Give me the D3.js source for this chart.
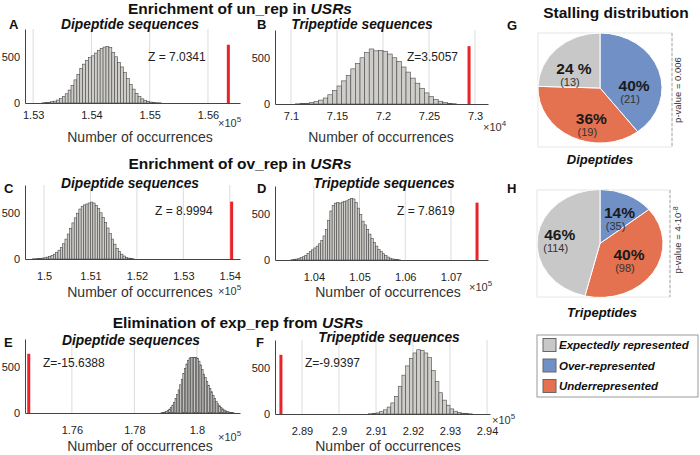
<!DOCTYPE html>
<html><head><meta charset="utf-8">
<script src="https://cdn.jsdelivr.net/npm/d3@7"></script>
<style>body{margin:0;background:#fff}svg{display:block}</style>
</head><body>
<svg id="c" width="700" height="455"></svg>
<script>
// ---------- DATA ----------
const rowTitles = ["Enrichment of un_rep in ", "Enrichment of ov_rep in ", "Elimination of exp_rep from "];
const panelLetters = ["A","B","C","D","E","F"];
const subTitles = ["Dipeptide sequences","Tripeptide sequences","Dipeptide sequences","Tripeptide sequences","Dipeptide sequences","Tripeptide sequences"];
const zLabels = ["Z = 7.0341","Z=3.5057","Z = 8.9994","Z = 7.8619","Z=-15.6388","Z=-9.9397"];
const expLabels = ["5","4","5","5","5","5"];

const binStartA = 1.5315, binWidthA = 0.0005;
const countsA = [2,4,8,14,20,32,48,70,100,140,190,250,310,375,420,460,490,510,540,570,590,605,610,600,545,500,440,390,330,265,200,150,105,70,45,28,18,10,6,3,2];
const binStartB = 7.105, binWidthB = 0.005;
const countsB = [2,4,8,14,25,42,65,100,145,195,250,310,380,440,500,555,595,575,580,570,540,500,460,400,345,280,225,170,120,80,50,30,15,7,3];
const binStartC = 1.4975, binWidthC = 0.0005;
const countsC = [2,3,5,7,10,14,20,28,38,52,70,95,125,165,215,270,330,390,445,495,540,570,585,595,605,615,605,580,545,500,450,395,335,275,215,160,115,80,52,32,18,10,5,2];
const binStartD = 1.035, binWidthD = 0.0005;
const countsD = [3,6,10,17,25,35,50,70,90,110,130,150,175,210,260,330,430,530,590,615,620,615,625,635,640,655,665,660,620,560,490,420,380,330,280,235,190,150,115,90,68,48,32,20,12,7,4,2];
const binStartE = 1.7885, binWidthE = 0.0005;
const countsE = [3,6,10,18,28,42,60,85,115,155,200,250,305,365,425,480,530,570,595,600,600,600,598,590,560,520,470,420,385,340,300,265,230,190,155,125,100,78,60,45,33,24,17,11,7,4,2];
const binStartF = 2.908, binWidthF = 0.001;
const countsF = [3,6,12,25,45,75,120,190,300,420,520,600,660,695,685,660,610,470,350,230,150,95,55,30,15,8,4,2];

const observed = [1.5635, 7.2935, 1.5404, 1.0757, 1.7462, 2.8843];
const observedHeight = [630, 625, 620, 620, 640, 640];

const xLimA = [1.5286, 1.5655], xLimB = [7.0826, 7.3141], xLimC = [1.4959, 1.5422];
const xLimD = [1.0315, 1.0781], xLimE = [1.7450, 1.8138], xLimF = [2.8827, 2.9408];
const yLim = [0, 800];
const yTicks = [0, 500];
const xTicksA = [1.53,1.54,1.55,1.56], xTickLabelsA = ["1.53","1.54","1.55","1.56"];
const xTicksB = [7.1,7.15,7.2,7.25,7.3], xTickLabelsB = ["7.1","7.15","7.2","7.25","7.3"];
const xTicksC = [1.5,1.51,1.52,1.53,1.54], xTickLabelsC = ["1.5","1.51","1.52","1.53","1.54"];
const xTicksD = [1.04,1.05,1.06,1.07], xTickLabelsD = ["1.04","1.05","1.06","1.07"];
const xTicksE = [1.76,1.78,1.8], xTickLabelsE = ["1.76","1.78","1.8"];
const xTicksF = [2.89,2.9,2.91,2.92,2.93,2.94], xTickLabelsF = ["2.89","2.9","2.91","2.92","2.93","2.94"];

const pieCategories = ["Over-represented","Underrepresented","Expectedly represented"];
const pieCountsG = [21, 19, 13];
const piePctG = ["40%","36%","24 %"];
const pieCountsH = [35, 98, 114];
const piePctH = ["14%","40%","46%"];
const legendOrder = ["Expectedly represented","Over-represented","Underrepresented"];

// ---------- LAYOUT ----------
const FONT = "'Liberation Sans', Arial, Helvetica, sans-serif";
const svg = d3.select("#c");
const color = d3.scaleOrdinal().domain(pieCategories).range(["#7090c6","#e4714f","#c8c8c8"]);

const panels = [
  {counts:countsA,start:binStartA,bw:binWidthA,xlim:xLimA,ticks:xTicksA,tl:xTickLabelsA,x0:25,x1:240,base:103,
   letter:[9,29],sub:[130,29],z:[148,61],xl:[140,142],exp:[218,127],tlDy:17},
  {counts:countsB,start:binStartB,bw:binWidthB,xlim:xLimB,ticks:xTicksB,tl:xTickLabelsB,x0:275,x1:488,base:104,
   letter:[257,29],sub:[362,29],z:[407,61],xl:[381,142],exp:[483,131],tlDy:17},
  {counts:countsC,start:binStartC,bw:binWidthC,xlim:xLimC,ticks:xTicksC,tl:xTickLabelsC,x0:25,x1:240,base:259,
   letter:[4,193],sub:[130,188],z:[155,215],xl:[140,297],exp:[218,295],tlDy:22},
  {counts:countsD,start:binStartD,bw:binWidthD,xlim:xLimD,ticks:xTicksD,tl:xTickLabelsD,x0:275,x1:488,base:260,
   letter:[257,193],sub:[384,188],z:[397,215],xl:[388,297],exp:[469,291],tlDy:22},
  {counts:countsE,start:binStartE,bw:binWidthE,xlim:xLimE,ticks:xTicksE,tl:xTickLabelsE,x0:25,x1:240,base:413,
   letter:[4,347],sub:[131,345],z:[43,367],xl:[140,451],exp:[218,441],tlDy:22},
  {counts:countsF,start:binStartF,bw:binWidthF,xlim:xLimF,ticks:xTicksF,tl:xTickLabelsF,x0:275,x1:490,base:414,
   letter:[256,347],sub:[389,342],z:[305,367],xl:[388,451],exp:[492,424],tlDy:22}
];
const plotH = 74;

// row titles
const titlePos = [[240,14],[240,169],[238,328]];
rowTitles.forEach((t,i)=>{
  const tx = svg.append("text").attr("x",titlePos[i][0]).attr("y",titlePos[i][1])
    .attr("text-anchor","middle").attr("font-family",FONT).attr("font-weight","bold")
    .attr("font-size",15.5).attr("fill","#111");
  tx.append("tspan").text(t);
  tx.append("tspan").attr("font-style","italic").text("USRs");
});

panels.forEach((p,i)=>{
  const x = d3.scaleLinear().domain(p.xlim).range([p.x0,p.x1]);
  const y = d3.scaleLinear().domain(yLim).range([p.base,p.base-plotH]);
  const g = svg.append("g");
  // gridlines
  g.selectAll("line.grid").data(p.ticks).join("line")
    .attr("x1",d=>x(d)).attr("x2",d=>x(d)).attr("y1",y(0)).attr("y2",y(yLim[1]))
    .attr("stroke","#dcdcdc").attr("stroke-width",1);
  // histogram
  g.selectAll("rect.bar").data(p.counts).join("rect")
    .attr("x",(d,k)=>x(p.start+k*p.bw))
    .attr("width",(d,k)=>x(p.start+(k+1)*p.bw)-x(p.start+k*p.bw))
    .attr("y",d=>y(d)).attr("height",d=>y(0)-y(d))
    .attr("fill","#cfcdc9").attr("stroke","#4a4a4a").attr("stroke-width",0.6);
  // observed value
  g.append("rect").attr("x",x(observed[i])-1.5).attr("width",3)
    .attr("y",y(observedHeight[i])).attr("height",y(0)-y(observedHeight[i]))
    .attr("fill","#e8232a");
  // axes
  const xa = d3.axisBottom(x).tickValues(p.ticks).tickFormat((d,k)=>p.tl[k]).tickSize(0).tickPadding(p.tlDy-9);
  const gx = g.append("g").attr("transform",`translate(0,${p.base})`).call(xa);
  gx.select(".domain").attr("stroke","#444");
  gx.selectAll("text").attr("font-family",FONT).attr("font-size",11).attr("fill","#222");
  const ya = d3.axisLeft(y).tickValues(yTicks).tickSize(0).tickPadding(5);
  const gy = g.append("g").attr("transform",`translate(${p.x0},0)`).call(ya);
  gy.select(".domain").attr("stroke","#444");
  gy.selectAll("text").attr("font-family",FONT).attr("font-size",11).attr("fill","#222");
  // texts
  g.append("text").attr("x",p.letter[0]).attr("y",p.letter[1]).text(panelLetters[i])
    .attr("font-family",FONT).attr("font-weight","bold").attr("font-size",13).attr("fill","#111");
  g.append("text").attr("x",p.sub[0]).attr("y",p.sub[1]).attr("text-anchor","middle").text(subTitles[i])
    .attr("font-family",FONT).attr("font-weight","bold").attr("font-style","italic").attr("font-size",13.8).attr("fill","#111");
  g.append("text").attr("x",p.z[0]).attr("y",p.z[1]).text(zLabels[i])
    .attr("font-family",FONT).attr("font-size",12).attr("fill","#222");
  g.append("text").attr("x",p.xl[0]).attr("y",p.xl[1]).attr("text-anchor","middle").text("Number of occurrences")
    .attr("font-family",FONT).attr("font-size",14).attr("fill","#333");
  const e = g.append("text").attr("x",p.exp[0]).attr("y",p.exp[1])
    .attr("font-family",FONT).attr("font-size",11).attr("fill","#333");
  e.append("tspan").text("\u00d710");
  e.append("tspan").attr("dy",-5).attr("font-size",8).text(expLabels[i]);
});

// ---------- PIES ----------
svg.append("text").attr("x",616).attr("y",18).attr("text-anchor","middle").text("Stalling distribution")
  .attr("font-family",FONT).attr("font-weight","bold").attr("font-size",15.5).attr("fill","#111");

const pies = [
  {counts:pieCountsG,pct:piePctG,cx:600,cy:88,rx:62,ry:55,letter:[507,30],box:[538,33,672,147],
   pv:["p-value = 0.006",null],pvPos:[681,90],name:"Dipeptides",namePos:[600,164],
   lab:[[0.55,0.08],[-0.14,0.68],[-0.42,-0.23]]},
  {counts:pieCountsH,pct:piePctH,cx:600,cy:243.5,rx:63,ry:54,letter:[507,193],box:[537,190,670,297],
   pv:["p-value = 4\u00b710","-8"],pvPos:[681,240],name:"Tripeptides",namePos:[602,317],
   lab:[[0.31,-0.46],[0.46,0.33],[-0.64,-0.04]]}
];
const R = 100;
const arc = d3.arc().innerRadius(0).outerRadius(R);
pies.forEach(P=>{
  const g = svg.append("g");
  g.append("rect").attr("x",P.box[0]).attr("y",P.box[1]).attr("width",P.box[2]-P.box[0]).attr("height",P.box[3]-P.box[1])
    .attr("fill","none").attr("stroke","#e6e6e6").attr("stroke-width",1);
  g.append("line").attr("x1",P.box[2]).attr("x2",P.box[2]).attr("y1",P.box[1]).attr("y2",P.box[3])
    .attr("stroke","#aaa").attr("stroke-dasharray","3,2");
  const data = d3.pie().sort(null).value(d=>d.v)(P.counts.map((v,k)=>({v,cat:pieCategories[k]})));
  g.append("g").attr("transform",`translate(${P.cx},${P.cy}) scale(${P.rx/R},${P.ry/R})`)
    .selectAll("path").data(data).join("path").attr("d",arc)
    .attr("fill",d=>color(d.data.cat)).attr("stroke","#fff").attr("stroke-width",1)
    .attr("vector-effect","non-scaling-stroke");
  data.forEach((d,k)=>{
    const lx = P.cx + P.lab[k][0]*P.rx, ly = P.cy + P.lab[k][1]*P.ry;
    g.append("text").attr("x",lx).attr("y",ly-1).attr("text-anchor","middle").text(P.pct[k])
      .attr("font-family",FONT).attr("font-weight","bold").attr("font-size",15.5).attr("fill","#1a1a1a");
    g.append("text").attr("x",lx-4).attr("y",ly+11).attr("text-anchor","middle").text(`(${d.data.v})`)
      .attr("font-family",FONT).attr("font-size",11).attr("fill","#333");
  });
  g.append("text").attr("x",P.letter[0]).attr("y",P.letter[1]).text(P===pies[0]?"G":"H")
    .attr("font-family",FONT).attr("font-weight","bold").attr("font-size",13).attr("fill","#111");
  const pv = g.append("text").attr("transform",`translate(${P.pvPos[0]},${P.pvPos[1]}) rotate(-90)`)
    .attr("text-anchor","middle").attr("font-family",FONT).attr("font-size",9.5).attr("fill","#333");
  pv.append("tspan").text(P.pv[0]);
  if (P.pv[1]) pv.append("tspan").attr("dy",-3).attr("font-size",7).text(P.pv[1]);
  g.append("text").attr("x",P.namePos[0]).attr("y",P.namePos[1]).attr("text-anchor","middle").text(P.name)
    .attr("font-family",FONT).attr("font-weight","bold").attr("font-style","italic").attr("font-size",13).attr("fill","#111");
});

// ---------- LEGEND ----------
const lg = svg.append("g");
lg.append("rect").attr("x",537).attr("y",335).attr("width",161).attr("height",62)
  .attr("fill","#fff").attr("stroke","#999").attr("stroke-width",1);
const ly = d3.scalePoint().domain(legendOrder).range([345,386]);
lg.selectAll("rect.sw").data(legendOrder).join("rect")
  .attr("x",543).attr("y",d=>ly(d)-6.5).attr("width",13).attr("height",13)
  .attr("fill",d=>color(d)).attr("stroke","#666").attr("stroke-width",1);
lg.selectAll("text").data(legendOrder).join("text")
  .attr("x",559).attr("y",d=>ly(d)+4).text(d=>d)
  .attr("font-family",FONT).attr("font-weight","bold").attr("font-style","italic").attr("font-size",11.5).attr("fill","#111");
</script>
</body></html>
